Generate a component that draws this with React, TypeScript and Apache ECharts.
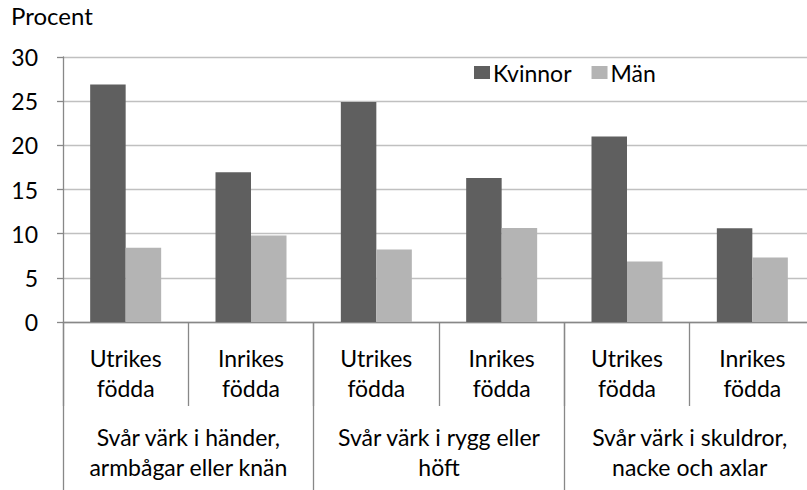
import React, { useEffect, useRef } from "react";
import * as echarts from "echarts";

const categories = [
  "Utrikes\nfödda",
  "Inrikes\nfödda",
  "Utrikes\nfödda",
  "Inrikes\nfödda",
  "Utrikes\nfödda",
  "Inrikes\nfödda",
];
const groups = [
  "Svår värk i händer,\narmbågar eller knän",
  "Svår värk i rygg eller\nhöft",
  "Svår värk i skuldror,\nnacke och axlar",
];
const kvinnor = [26.9, 16.95, 24.9, 16.3, 21.0, 10.6];
const man = [8.4, 9.8, 8.2, 10.65, 6.85, 7.3];
const seriesNames = ["Kvinnor", "Män"];

const FONT = "Lato";
const FS = 23;

export default function App() {
  const ref = useRef<HTMLDivElement>(null);
  useEffect(() => {
    document.body.style.margin = "0";
    const chart = echarts.init(ref.current!, null, { renderer: "svg" });
    chart.setOption({
      animation: false,
      backgroundColor: "#ffffff",
      textStyle: { fontFamily: FONT, color: "#000" },
      title: {
        text: "Procent",
        left: 6,
        top: -2,
        textStyle: { fontFamily: FONT, fontSize: 24, fontWeight: "normal", color: "#000" },
      },
      legend: {
        data: seriesNames,
        left: 469,
        top: 56,
        itemWidth: 16,
        itemHeight: 13,
        itemGap: 20,
        icon: "rect",
        textStyle: { fontFamily: FONT, fontSize: FS, color: "#000", padding: [0, 0, 0, -2] },
      },
      grid: { left: 63, top: 57, width: 752, height: 265, outerBoundsMode: "none", containLabel: false },
      xAxis: [
        {
          type: "category",
          data: categories,
          position: "bottom",
          axisLine: { show: true, lineStyle: { color: "#888888", width: 1.3 } },
          axisTick: { show: true, interval: 0, length: 84, lineStyle: { color: "#888888", width: 1.3 } },
          axisLabel: {
            interval: 0,
            margin: 21,
            fontFamily: FONT,
            fontSize: FS,
            lineHeight: 30,
            color: "#000",
          },
        },
        {
          type: "category",
          data: groups,
          position: "bottom",
          offset: 0,
          axisLine: { show: false },
          axisTick: { show: true, interval: 0, length: 170, lineStyle: { color: "#888888", width: 1.3 } },
          axisLabel: {
            interval: 0,
            margin: 100,
            fontFamily: FONT,
            fontSize: FS,
            lineHeight: 30,
            color: "#000",
          },
        },
      ],
      yAxis: {
        type: "value",
        min: 0,
        max: 30,
        interval: 5,
        axisLine: { show: true, lineStyle: { color: "#888888", width: 1.3 } },
        axisTick: { show: true, length: 6, lineStyle: { color: "#888888", width: 1.3 } },
        splitLine: { show: true, lineStyle: { color: "#c0c0c0", width: 1.3 } },
        axisLabel: { margin: 25, fontFamily: FONT, fontSize: FS, color: "#000" },
      },
      series: [
        {
          name: seriesNames[0],
          type: "bar",
          data: kvinnor,
          barWidth: 35.5,
          barGap: "0%",
          itemStyle: { color: "#5f5f5f" },
        },
        {
          name: seriesNames[1],
          type: "bar",
          data: man,
          barWidth: 35.5,
          barGap: "0%",
          itemStyle: { color: "#b4b4b4" },
        },
      ],
    });
    return () => chart.dispose();
  }, []);
  return (
    <div
      ref={ref}
      style={{ position: "fixed", left: 0, top: 0, width: 807, height: 490 }}
    />
  );
}
